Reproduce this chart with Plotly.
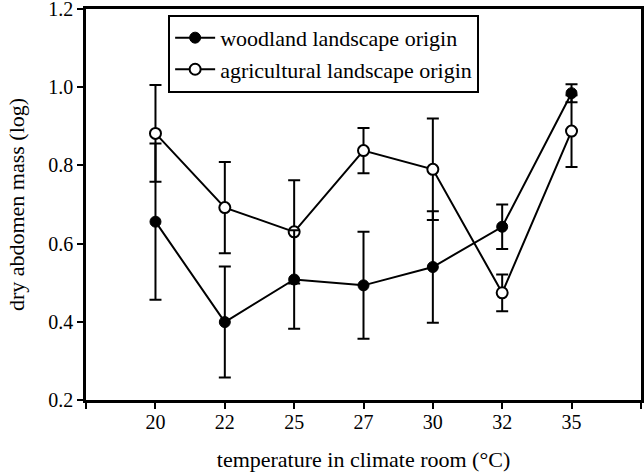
import plotly.graph_objects as go

# temperatures (categorical, evenly spaced on the axis)
temps = ['20', '22', '25', '27', '30', '32', '35']

# woodland landscape origin (filled circles)
wood_mean = [0.656, 0.399, 0.508, 0.493, 0.540, 0.643, 0.985]
wood_err = [0.200, 0.142, 0.126, 0.137, 0.143, 0.057, 0.023]

# agricultural landscape origin (open circles)
agri_mean = [0.882, 0.692, 0.630, 0.838, 0.790, 0.474, 0.888]
agri_err = [0.124, 0.117, 0.132, 0.058, 0.130, 0.047, 0.092]

y_ticks = [0.2, 0.4, 0.6, 0.8, 1.0, 1.2]

xpos = list(range(len(temps)))
font_serif = "Times New Roman"
tick_size = 20
text_size = 22

fig = go.Figure()

fig.add_trace(go.Scatter(
    x=xpos, y=agri_mean,
    mode='lines+markers',
    name='agricultural landscape origin',
    line=dict(color='black', width=2),
    marker=dict(symbol='circle', size=11, color='white',
                line=dict(color='black', width=2)),
    error_y=dict(type='data', array=agri_err, visible=True,
                 color='black', thickness=2, width=6),
))

fig.add_trace(go.Scatter(
    x=xpos, y=wood_mean,
    mode='lines+markers',
    name='woodland landscape origin',
    line=dict(color='black', width=2),
    marker=dict(symbol='circle', size=11, color='black',
                line=dict(color='black', width=1)),
    error_y=dict(type='data', array=wood_err, visible=True,
                 color='black', thickness=2, width=6),
))

fig.update_layout(
    width=644, height=473,
    margin=dict(l=86, r=3, t=9, b=73),
    plot_bgcolor='white',
    paper_bgcolor='white',
    font=dict(family=font_serif, size=text_size, color='black'),
    showlegend=True,
    legend=dict(
        x=0.148, y=0.985, xanchor='left', yanchor='top',
        bgcolor='white', bordercolor='black', borderwidth=2,
        font=dict(family=font_serif, size=text_size),
        traceorder='reversed',
        tracegroupgap=0,
        itemwidth=40,
    ),
)

fig.update_xaxes(
    range=[-1.002, len(temps) + 0.002],
    tickmode='array',
    tickvals=[-1] + xpos + [len(temps)],
    ticktext=[''] + temps + [''],
    ticks='outside', ticklen=6, tickwidth=2, tickcolor='black',
    showline=True, linecolor='black', linewidth=2.5, mirror=True,
    showgrid=False, zeroline=False, automargin=False,
    ticklabelstandoff=-4,
    tickfont=dict(family=font_serif, size=tick_size),
    title=dict(text='temperature in climate room (°C)', standoff=20,
               font=dict(family=font_serif, size=text_size)),
)

fig.update_yaxes(
    range=[0.1995, 1.2005],
    tickmode='array',
    tickvals=y_ticks,
    ticktext=[f'{v:.1f}' for v in y_ticks],
    ticks='outside', ticklen=6, tickwidth=2, tickcolor='black',
    showline=True, linecolor='black', linewidth=2.5, mirror=True,
    showgrid=False, zeroline=False, automargin=False,
    ticklabeloverflow='allow',
    tickfont=dict(family=font_serif, size=tick_size),
    title=dict(text='dry abdomen mass (log)', standoff=18,
               font=dict(family=font_serif, size=text_size)),
)

# drop the browser's default body margin so the figure sits at the page corner
fig.write_html("out.html", config={'displayModeBar': False},
               post_script="document.body.style.margin='0';")
